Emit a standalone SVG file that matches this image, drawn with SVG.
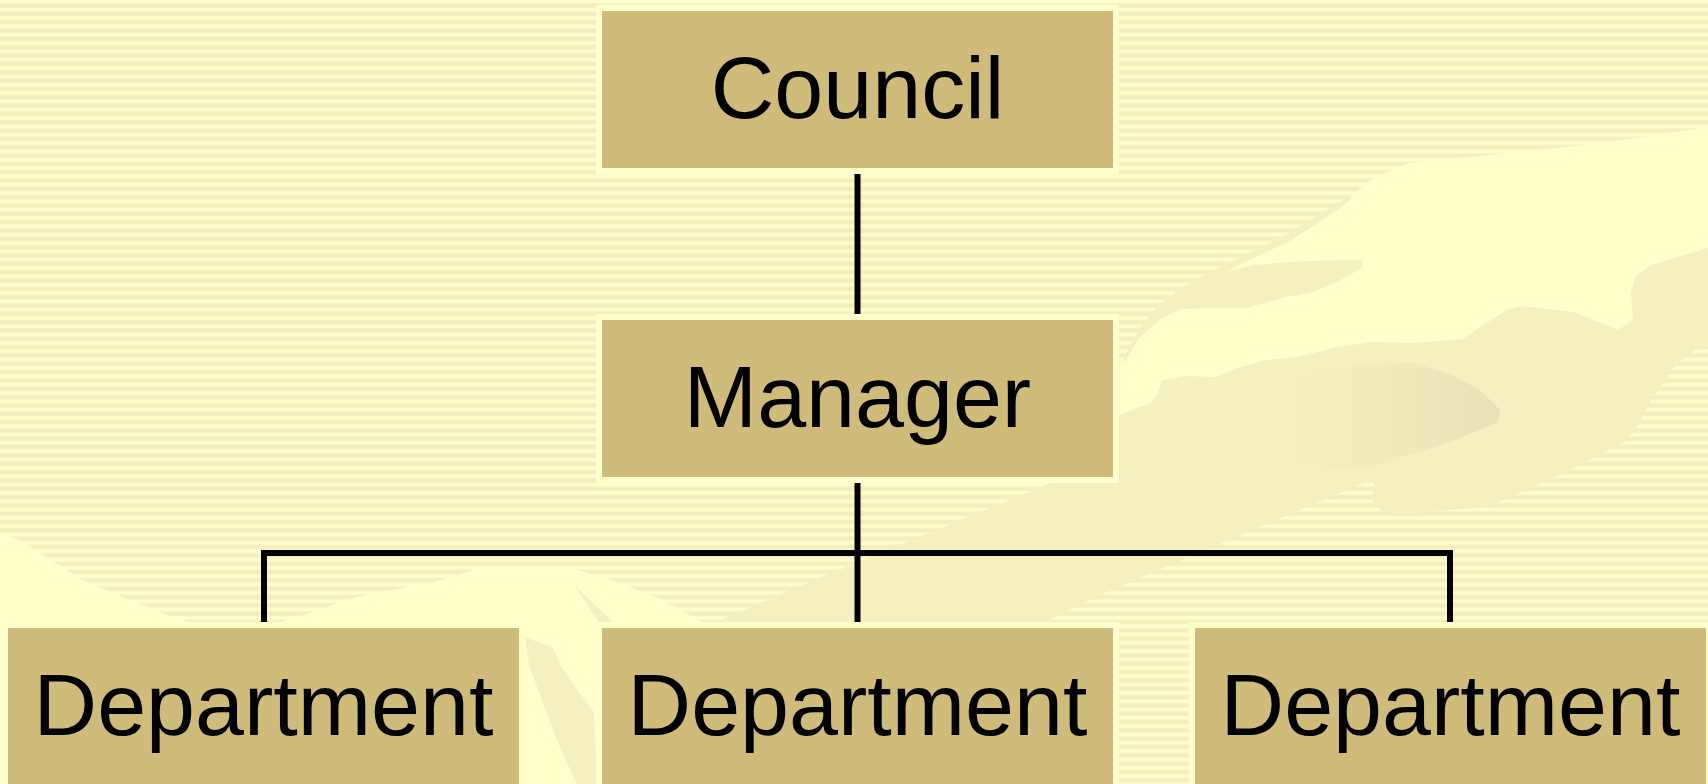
<svg xmlns="http://www.w3.org/2000/svg" width="1708" height="784" viewBox="0 0 1708 784">
  <defs>
    <pattern id="stripes" width="40" height="8.33" patternUnits="userSpaceOnUse">
      <rect width="40" height="8.33" fill="#FFFFCC"/>
      <rect y="2.8" width="40" height="1" fill="#FAF6C6"/>
      <rect y="3.8" width="40" height="3.6" fill="#F4EEBF"/>
      <rect y="7.4" width="40" height="0.93" fill="#FAF6C6"/>
    </pattern>
    <linearGradient id="palm" x1="0" y1="0" x2="1" y2="0">
      <stop offset="0" stop-color="#F5F0C0" stop-opacity="0"/>
      <stop offset="1" stop-color="#E6E1B6"/>
    </linearGradient>
    <style>
      .box { fill: #CFBB7A; }
      .rim { fill: #FFFFCC; }
      .lbl { font-family: "Liberation Sans", Arial, sans-serif; font-size: 88px; fill: #000; text-anchor: middle; }
      .light { fill: #FFFFCC; }
      .dark { fill: #F5F0C0; }
      .conn { fill: none; stroke: #000; stroke-width: 6; stroke-linejoin: miter; stroke-linecap: butt; }
    </style>
  </defs>

  <g id="background">
    <rect width="1708" height="784" fill="url(#stripes)"/>
    <polygon class="light" points="1708,127 1604,143 1488,155 1410,163 1391,170 1371,180 1352,195 1333,206 1282,237 1255,250 1205,274 1178,290 1158,305 1139,329 1123,360 1113,372 1113,440 1150,420 1300,380 1500,340 1573,330 1640,330 1708,300"/>
    <polygon class="dark" points="1178,290 1205,274 1255,250 1282,237 1333,206 1352,195 1350,200 1336,211 1290,241 1258,256 1210,279 1182,294"/>
    <polygon class="dark" points="1123,360 1139,329 1158,305 1178,291 1205,276 1255,265 1305,261 1362,260 1362,268 1337,282 1313,292 1282,298 1247,308 1216,308 1181,309 1162,318 1139,338 1125,362"/>
    <polygon class="light" points="0,533 20,540 82,580 122,597 173,617 194,624 276,624 357,597 408,587 434,582 480,568 551,566 577,570 612,580 663,600 705,624 705,784 0,784"/>
    <polygon class="dark" points="712,624 800,586 1051,483 1110,460 1110,415 1119,415 1150,403 1158,393 1162,380 1185,376 1216,377 1240,367 1267,360 1298,357 1333,348 1371,342 1414,343 1463,339 1480,327 1507,310 1521,306 1573,312 1618,330 1633,320 1631,293 1635,277 1651,265 1708,248 1708,347 1697,348 1674,367 1651,400 1635,430 1623,443 1560,475 1488,507 1400,514 1383,512 1372,500 1375,478 1100,595 1040,624"/>
    <polygon fill="url(#palm)" points="1240,400 1310,372 1370,363 1414,363 1450,374 1480,390 1500,410 1498,422 1450,442 1360,470 1290,466"/>
    <polygon class="dark" points="525,637 553,648 561,666 577,690 594,712 597,784 577,784 561,750 543,703 529,665"/>
    <polygon class="dark" points="575,586 590,600 615,624 600,624 588,606"/>
  </g>

  <g id="connectors">
    <line class="conn" x1="857.5" y1="174" x2="857.5" y2="314"/>
    <line class="conn" x1="857.5" y1="483" x2="857.5" y2="622"/>
    <polyline class="conn" points="264,622 264,553 1450,553 1450,622"/>
  </g>

  <g id="council">
    <rect class="rim" x="596" y="5" width="523" height="169"/>
    <rect class="box" x="602" y="11" width="511" height="157"/>
    <text class="lbl" x="857.5" y="118">Council</text>
  </g>

  <g id="manager">
    <rect class="rim" x="596" y="314" width="523" height="169"/>
    <rect class="box" x="602" y="320" width="511" height="157"/>
    <text class="lbl" x="857.5" y="427">Manager</text>
  </g>

  <g id="department-1">
    <rect class="rim" x="2" y="622" width="523" height="169"/>
    <rect class="box" x="8" y="628" width="511" height="157"/>
    <text class="lbl" x="263.5" y="735">Department</text>
  </g>

  <g id="department-2">
    <rect class="rim" x="596" y="622" width="523" height="169"/>
    <rect class="box" x="602" y="628" width="511" height="157"/>
    <text class="lbl" x="857.5" y="735">Department</text>
  </g>

  <g id="department-3">
    <rect class="rim" x="1189" y="622" width="523" height="169"/>
    <rect class="box" x="1195" y="628" width="511" height="157"/>
    <text class="lbl" x="1450.5" y="735">Department</text>
  </g>
</svg>
